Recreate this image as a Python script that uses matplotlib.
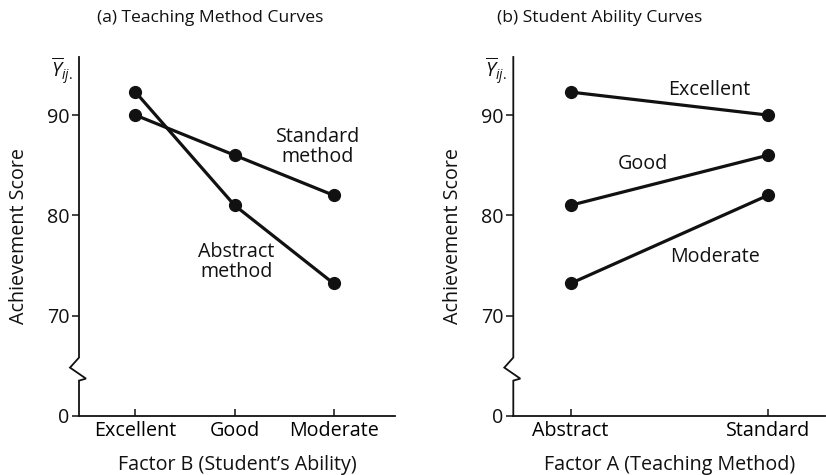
import matplotlib
matplotlib.use("Agg")
import matplotlib.pyplot as plt
import matplotlib.transforms as mtransforms

plt.rcParams["font.family"] = ["Open Sans", "DejaVu Sans"]
plt.rcParams["mathtext.fontset"] = "custom"
plt.rcParams["mathtext.it"] = "Open Sans:italic"
plt.rcParams["mathtext.rm"] = "Open Sans"

# data (cell means)
abilities = ["Excellent", "Good", "Moderate"]
methods = ["Abstract", "Standard"]
abstract_means = [92.3, 81.0, 73.2]
standard_means = [90.0, 86.0, 82.0]

ytick_vals = [60, 70, 80, 90]      # 60 stands in for the broken-off 0
ytick_labels = ["0", "70", "80", "90"]

INK = "#111111"
LW = 2.3
MS = 8.5
FS = 14.2


def setup_axis(ax, xlim):
    ax.set_xlim(*xlim)
    ax.set_ylim(60, 95.8)
    for side in ("top", "right", "left"):
        ax.spines[side].set_visible(False)
    ax.spines["bottom"].set_linewidth(1.3)
    ax.spines["bottom"].set_color(INK)
    ax.set_yticks(ytick_vals)
    ax.set_yticklabels(ytick_labels, fontsize=FS, color=INK)
    ax.tick_params(axis="y", direction="out", length=5, width=1.1, color=INK, pad=2)
    ax.tick_params(axis="x", direction="in", length=5, width=1.1, color=INK, pad=4,
                   labelsize=FS)

    # left spine drawn by hand with the break zigzag
    tr = mtransforms.blended_transform_factory(ax.transAxes, ax.transData)
    dx = 1.0 / (ax.get_position().width * 826)
    xs = [0, 0, -9 * dx, 7 * dx, 0, 0]
    ys = [95.8, 65.8, 64.8, 63.7, 63.5, 60]
    ax.plot(xs, ys, color=INK, lw=1.3, transform=tr, clip_on=False,
            solid_joinstyle="miter")


fig = plt.figure(figsize=(8.26, 4.75), dpi=100)
fig.patch.set_facecolor("white")

ax1 = fig.add_axes([79 / 826, 1 - 415.7 / 475, 316 / 826, 358.7 / 475])
ax2 = fig.add_axes([513.3 / 826, 1 - 415.7 / 475, 312 / 826, 358.7 / 475])

# (a) teaching method curves
x_b = list(range(len(abilities)))
ax1.plot(x_b, abstract_means, color=INK, lw=LW, marker="o", ms=MS, zorder=3)
ax1.plot(x_b, standard_means, color=INK, lw=LW, marker="o", ms=MS, zorder=3)
setup_axis(ax1, (-0.57, 2.62))
ax1.set_xticks(x_b)
ax1.set_xticklabels(abilities)
ax1.text(1.84, 86.8, "Standard\nmethod", ha="center", va="center", fontsize=FS,
         linespacing=1.0, color=INK)
ax1.text(1.02, 75.3, "Abstract\nmethod", ha="center", va="center", fontsize=FS,
         linespacing=1.0, color=INK)
ax1.set_xlabel("Factor B (Student\u2019s Ability)", fontsize=FS, color=INK, labelpad=10)
ax1.set_ylabel("Achievement Score", fontsize=FS, color=INK, labelpad=13)

# (b) student ability curves
x_a = list(range(len(methods)))
for k, name in enumerate(abilities):
    ax2.plot(x_a, [abstract_means[k], standard_means[k]], color=INK, lw=LW,
             marker="o", ms=MS, zorder=3)
setup_axis(ax2, (-0.29, 1.29))
ax2.set_xticks(x_a)
ax2.set_xticklabels(methods)
ax2.text(0.70, 92.5, "Excellent", ha="center", va="center", fontsize=FS, color=INK)
ax2.text(0.365, 85.1, "Good", ha="center", va="center", fontsize=FS, color=INK)
ax2.text(0.73, 75.8, "Moderate", ha="center", va="center", fontsize=FS, color=INK)
ax2.set_xlabel("Factor A (Teaching Method)", fontsize=FS, color=INK, labelpad=10)
ax2.set_ylabel("Achievement Score", fontsize=FS, color=INK, labelpad=13)

# y-bar symbols above each axis
for ax in (ax1, ax2):
    ax.text(-0.055, 1.005, r"$\overline{Y}_{ij.}$", transform=ax.transAxes,
            ha="center", va="top", fontsize=FS, color=INK)

fig.text(210 / 826, 1 - 18 / 475, "(a) Teaching Method Curves", ha="center",
         va="center", fontsize=12.6, color=INK)
fig.text(600 / 826, 1 - 18 / 475, "(b) Student Ability Curves", ha="center",
         va="center", fontsize=12.6, color=INK)

fig.savefig("out.png", dpi=100, facecolor="white")
